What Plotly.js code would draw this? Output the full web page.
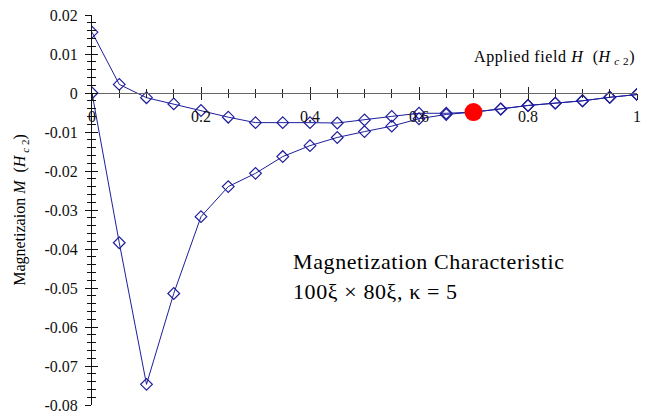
<!DOCTYPE html>
<html>
<head>
<meta charset="utf-8">
<script src="https://cdn.plot.ly/plotly-3.0.1.min.js"></script>
<style>
html,body{margin:0;padding:0;background:#fff;}
#chart{width:646px;height:414px;}
.annotation-text{letter-spacing:0.6px;}
</style>
</head>
<body>
<div id="chart"></div>
<script>
// Applied field H (in units of Hc2)
const fieldUp = [0, 0.05, 0.1, 0.15, 0.2, 0.25, 0.3, 0.35, 0.4, 0.45, 0.5, 0.55, 0.6, 0.65, 0.7, 0.75, 0.8, 0.85, 0.9, 0.95, 1.0];
// Magnetization while field ramps up
const magUp = [0, -0.0384, -0.0747, -0.0514, -0.0317, -0.0240, -0.0206, -0.0163, -0.0135, -0.0114, -0.0099, -0.0085, -0.0066, -0.0055, -0.0049, -0.0041, -0.0032, -0.0026, -0.0020, -0.0011, -0.0004];
// Field ramping back down
const fieldDown = [1.0, 0.95, 0.9, 0.85, 0.8, 0.75, 0.7, 0.65, 0.6, 0.55, 0.5, 0.45, 0.4, 0.35, 0.3, 0.25, 0.2, 0.15, 0.1, 0.05, 0];
const magDown = [-0.0004, -0.0011, -0.0020, -0.0026, -0.0032, -0.0041, -0.0049, -0.0052, -0.0052, -0.0060, -0.0069, -0.0077, -0.0076, -0.0076, -0.0076, -0.0062, -0.0045, -0.0028, -0.0012, 0.0022, 0.0156];
// Current state marker
const currentField = [0.7];
const currentMag = [-0.0049];

const yTickVals = [0.02, 0.01, 0, -0.01, -0.02, -0.03, -0.04, -0.05, -0.06, -0.07, -0.08];
const yTickText = ["0.02", "0.01", "0", "-0.01", "-0.02", "-0.03", "-0.04", "-0.05", "-0.06", "-0.07", "-0.08"];
const xTickVals = [0, 0.2, 0.4, 0.6, 0.8, 1];
const xTickText = ["0", "0.2", "0.4", "0.6", "0.8", "1"];

const lineColor = '#1e1e9c';
const serif = "'Liberation Serif', 'Times New Roman', Times, serif";

const traces = [
  {x: fieldUp, y: magUp, mode: 'lines+markers', type: 'scatter',
   line: {color: lineColor, width: 1},
   marker: {symbol: 'diamond-open', size: 9, color: lineColor, line: {width: 1.2, color: lineColor}},
   showlegend: false, hoverinfo: 'skip'},
  {x: fieldDown, y: magDown, mode: 'lines+markers', type: 'scatter',
   line: {color: lineColor, width: 1},
   marker: {symbol: 'diamond-open', size: 9, color: lineColor, line: {width: 1.2, color: lineColor}},
   showlegend: false, hoverinfo: 'skip'},
  {x: currentField, y: currentMag, mode: 'markers', type: 'scatter',
   marker: {symbol: 'circle', size: 18, color: '#ff0000'},
   showlegend: false, hoverinfo: 'skip'},
  {x: [], y: [], xaxis: 'x2', yaxis: 'y2', type: 'scatter', mode: 'markers', showlegend: false, hoverinfo: 'skip'}
];

const yRange = [-0.08, 0.02];
const xRange = [0, 1];
const zeroPos = (0 - yRange[0]) / (yRange[1] - yRange[0]);

const layout = {
  width: 646, height: 414,
  margin: {l: 92, r: 9, t: 15, b: 9, pad: 0},
  paper_bgcolor: '#fff', plot_bgcolor: '#fff',
  font: {family: serif, color: '#000'},
  xaxis: {
    range: xRange, anchor: 'free', position: zeroPos, side: 'bottom',
    showgrid: false, zeroline: false,
    showline: true, linecolor: '#666', linewidth: 1,
    tickmode: 'array', tickvals: xTickVals, ticktext: xTickText,
    ticks: 'outside', ticklen: 6, tickcolor: '#222', tickwidth: 1,
    minor: {dtick: 0.05, tick0: 0, ticks: 'outside', ticklen: 4, tickcolor: '#222', tickwidth: 1, showgrid: false},
    tickfont: {family: serif, size: 16, color: '#111'},
    ticklabelstandoff: 3
  },
  xaxis2: {
    range: xRange, overlaying: 'x', anchor: 'free', position: zeroPos, side: 'bottom',
    showgrid: false, zeroline: false, showline: false, showticklabels: false,
    tickmode: 'array', tickvals: xTickVals,
    ticks: 'inside', ticklen: 6, tickcolor: '#222', tickwidth: 1,
    minor: {dtick: 0.05, tick0: 0, ticks: 'inside', ticklen: 4, tickcolor: '#222', tickwidth: 1, showgrid: false}
  },
  yaxis: {
    range: yRange, domain: [0, 1],
    showgrid: false, zeroline: false,
    showline: true, linecolor: '#111', linewidth: 1,
    tickmode: 'array', tickvals: yTickVals, ticktext: yTickText,
    ticks: 'outside', ticklen: 6, tickcolor: '#111', tickwidth: 1,
    minor: {dtick: 0.002, tick0: 0, ticks: 'outside', ticklen: 4, tickcolor: '#111', tickwidth: 1, showgrid: false},
    tickfont: {family: serif, size: 16, color: '#111'},
    ticklabelstandoff: 4,
    title: {text: 'Magnetizaion <i>M</i>  (<i>H</i><sub> <i>c</i> 2</sub>)', font: {family: serif, size: 16, color: '#000'}, standoff: 14}
  },
  yaxis2: {
    range: yRange, overlaying: 'y', side: 'left', anchor: 'x',
    showgrid: false, zeroline: false, showline: false, showticklabels: false,
    tickmode: 'array', tickvals: yTickVals,
    ticks: 'inside', ticklen: 6, tickcolor: '#111', tickwidth: 1,
    minor: {dtick: 0.002, tick0: 0, ticks: 'inside', ticklen: 4, tickcolor: '#111', tickwidth: 1, showgrid: false}
  },
  annotations: [
    {xref: 'paper', yref: 'paper', x: 1, y: 0.892, xanchor: 'right', yanchor: 'middle', showarrow: false,
     text: 'Applied field <i>H</i>  (<i>H</i><sub> <i>c</i> 2</sub>)', font: {family: serif, size: 16, color: '#000'}},
    {xref: 'paper', yref: 'paper', x: 0.365, y: 0.369, xanchor: 'left', yanchor: 'middle', showarrow: false,
     text: 'Magnetization Characteristic', font: {family: serif, size: 22, color: '#000'}},
    {xref: 'paper', yref: 'paper', x: 0.365, y: 0.292, xanchor: 'left', yanchor: 'middle', showarrow: false,
     text: '100ξ × 80ξ, κ = 5', font: {family: serif, size: 22, color: '#000'}}
  ]
};

Plotly.newPlot('chart', traces, layout, {staticPlot: true, displayModeBar: false});
</script>
</body>
</html>
